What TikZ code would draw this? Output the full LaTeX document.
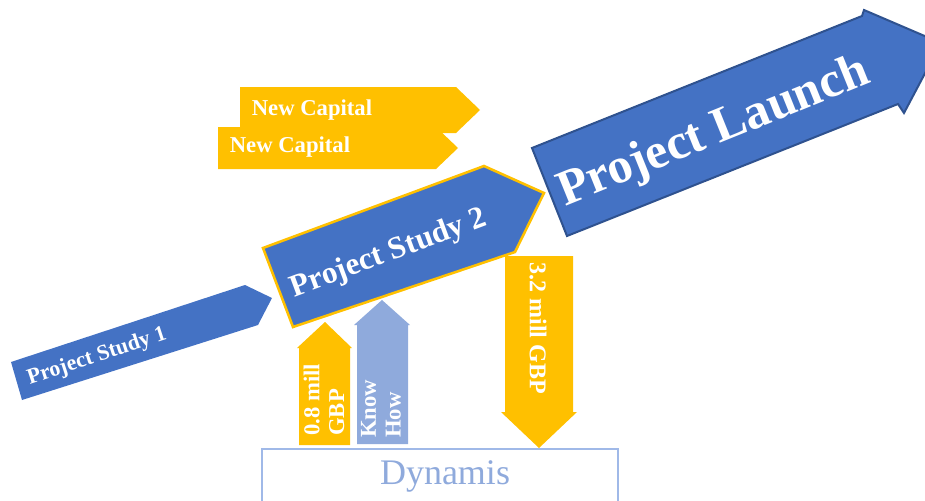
\documentclass[tikz,border=0pt]{standalone}
\usepackage{fontspec}
\setmainfont{Liberation Serif}
\definecolor{oblue}{HTML}{4472C4}
\definecolor{oyellow}{HTML}{FFC000}
\definecolor{lblue}{HTML}{8FAADC}
\definecolor{dblue}{HTML}{2F528F}
\definecolor{boxblue}{RGB}{160,185,232}
\tikzset{
  bluearrow/.style={fill=oblue},
  yelarrow/.style={fill=oyellow},
  lbarrow/.style={fill=lblue},
  lbl/.style={text=white, font=\bfseries, inner sep=0pt},
}
\begin{document}
\begin{tikzpicture}[x=0.75pt,y=-0.75pt]
\useasboundingbox (0,0) rectangle (925,500);
\clip (0,0) rectangle (925,500);
% New Capital arrows
\fill[yelarrow] (240,87) -- (456,87) -- (480,110) -- (456,133) -- (240,133) -- cycle;
\fill[yelarrow] (218,127) -- (436,127) -- (458,148) -- (436,169) -- (218,169) -- cycle;
\node[lbl, font=\bfseries\fontsize{17}{20}\selectfont] (nc1) at (312,110) {New Capital};
\node[lbl, font=\bfseries\fontsize{17}{20}\selectfont] (nc2) at (290,147) {New Capital};
% Project Study 1
\fill[bluearrow] (11,362) -- (245,285) -- (272,298) -- (258,325) -- (22,400) -- cycle;
\node[lbl, rotate=18.2, font=\bfseries\fontsize{16.5}{20}\selectfont] (ps1) at (97,357) {Project Study 1};
% vertical arrows
\fill[yelarrow] (299,445) -- (299,348) -- (297,348) -- (325,322) -- (352,348) -- (350,348) -- (350,445) -- cycle;
\node[lbl, rotate=90, anchor=west, align=left, font=\bfseries\fontsize{17}{18.5}\selectfont] (gbp08) at (324,436) {0.8 mill\\GBP};
\fill[lbarrow] (357,444) -- (357,325) -- (354,325) -- (382,300) -- (410,325) -- (408,325) -- (408,444) -- cycle;
\node[lbl, rotate=90, anchor=west, align=left, font=\bfseries\fontsize{17}{18.5}\selectfont] (know) at (381,438) {Know\\How};
\fill[yelarrow] (505,256) -- (573,256) -- (573,412) -- (577,412) -- (539,448) -- (501,412) -- (505,412) -- cycle;
\node[lbl, rotate=-90, font=\bfseries\fontsize{18}{20}\selectfont] (gbp32) at (538,328) {3.2 mill GBP};
% Project Study 2
\filldraw[bluearrow, draw=oyellow, line width=1.9pt, line join=miter] (263,248) -- (484,166) -- (544,193) -- (515,252) -- (293,327) -- cycle;
\node[lbl, rotate=20.4, font=\bfseries\fontsize{23.5}{26}\selectfont] (ps2) at (389,254) {Project Study 2};
% Project Launch
\filldraw[bluearrow, draw=dblue, line width=1.5pt, line join=miter] (532,148) -- (862,16) -- (864,10) -- (941,43) -- (904,113) -- (898,104) -- (567,236) -- cycle;
\node[lbl, rotate=22, font=\bfseries\fontsize{37.5}{40}\selectfont] (pl) at (714,133) {Project Launch};
% Dynamis box
\draw[boxblue, line width=1.3pt] (262,510) -- (262,449) -- (618,449) -- (618,510);
\node[text=lblue, inner sep=0pt, font=\fontsize{27}{30}\selectfont] (dyn) at (445,476) {Dynamis};
\end{tikzpicture}
\end{document}
